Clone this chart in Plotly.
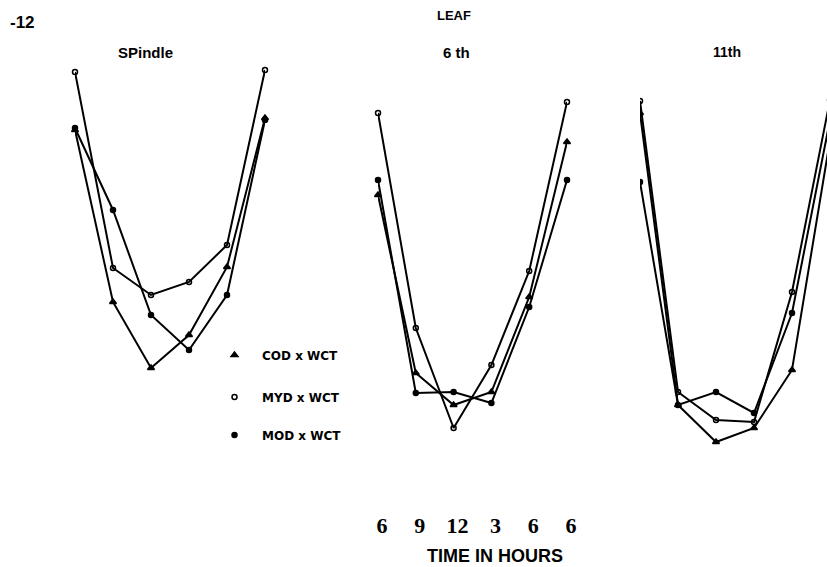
import plotly.graph_objects as go

W, H = 827, 567

time_ticks = ["6", "9", "12", "3", "6", "6"]
x_idx = [0, 1, 2, 3, 4, 5]

series_names = ["COD x WCT", "MYD x WCT", "MOD x WCT"]
panel_titles = ["SPindle", "6 th", "11th"]

# Panel 1: Spindle
spindle_cod = [82.5, 39.5, 23, 31.25, 48.25, 85.5]
spindle_myd = [97, 48, 41.25, 44.5, 53.75, 97.5]
spindle_mod = [83, 62.5, 36.25, 27.5, 41.25, 85]

# Panel 2: 6th leaf
leaf6_cod = [66.25, 21.75, 13.75, 17, 40.75, 79.5]
leaf6_myd = [86.75, 33, 8, 23.75, 47.25, 89.5]
leaf6_mod = [70, 16.75, 17, 14.25, 38.25, 70]

# Panel 3: 11th leaf
leaf11_cod = [86.75, 13.75, 4.5, 8, 22.5, 80]
leaf11_myd = [89.75, 17, 10, 9.5, 42, 90]
leaf11_mod = [69.5, 13.75, 17, 11.75, 36.75, 85]

panels = [
    (spindle_cod, spindle_myd, spindle_mod),
    (leaf6_cod, leaf6_myd, leaf6_mod),
    (leaf11_cod, leaf11_myd, leaf11_mod),
]

symbols = ["triangle-up", "circle-open", "circle"]
msizes = [6, 5, 5]

fig = go.Figure()

domains = [[75 / W, 265 / W], [378 / W, 567 / W], [640 / W, 1.0]]
ranges = [[0, 5], [0, 5], [0, 187 / 38]]

for p, data in enumerate(panels):
    xa = "x" if p == 0 else f"x{p+1}"
    for s, vals in enumerate(data):
        fig.add_trace(go.Scatter(
            x=x_idx, y=vals, xaxis=xa, yaxis="y",
            mode="lines+markers",
            line=dict(color="black", width=2),
            marker=dict(symbol=symbols[s], size=msizes[s], color="black",
                        line=dict(color="black", width=1.5)),
            cliponaxis=False if p < 2 else True,
            showlegend=False, hoverinfo="skip",
        ))

legend_keys = ["legend", "legend2", "legend3"]
for s, name in enumerate(series_names):
    fig.add_trace(go.Scatter(
        x=[None], y=[None], mode="markers", name=name,
        marker=dict(symbol=symbols[s], size=msizes[s], color="black",
                    line=dict(color="black", width=1.5)),
        showlegend=True, legend=legend_keys[s],
    ))

ax_common = dict(showgrid=False, zeroline=False, showline=False, ticks="", automargin=False)
fig.update_layout(
    width=W, height=H,
    margin=dict(l=0, r=0, t=0, b=0, pad=0, autoexpand=False),
    paper_bgcolor="white", plot_bgcolor="white",
    showlegend=True,
    yaxis=dict(range=[(460 - H) / 4, 460 / 4], domain=[0, 1], visible=False, **ax_common),
    xaxis=dict(domain=domains[0], range=ranges[0], anchor="y", visible=False, **ax_common),
    xaxis2=dict(domain=domains[1], range=ranges[1], anchor="free", position=1 - 510 / H,
                tickvals=x_idx, ticktext=time_ticks, showticklabels=True,
                ticklabelshift=4,
                tickfont=dict(family="Liberation Serif", size=22, color="black", weight="bold"),
                **ax_common),
    xaxis3=dict(domain=domains[2], range=ranges[2], anchor="y", visible=False, **ax_common),
)

leg_font = dict(family="DejaVu Sans", size=12, color="black", weight="bold")
for k, yp in zip(legend_keys, [355, 397, 435]):
    fig.update_layout({k: dict(x=207 / W, y=1 - yp / H, xanchor="left", yanchor="middle",
                               bgcolor="rgba(0,0,0,0)", font=leg_font,
                               itemwidth=45, borderwidth=0)})

ann = [
    dict(text="<b>-12</b>", x=8, y=22, size=17, xanchor="left"),
    dict(text="<b>LEAF</b>", x=454, y=15, size=13, xanchor="center"),
    dict(text="<b>" + panel_titles[0] + "</b>", x=145, y=52, size=15, xanchor="center"),
    dict(text="<b>" + panel_titles[1] + "</b>", x=456, y=52, size=15, xanchor="center"),
    dict(text="<b>" + panel_titles[2] + "</b>", x=727, y=52, size=14, xanchor="center"),
    dict(text="<b>TIME IN HOURS</b>", x=495, y=556, size=18, xanchor="center"),
]
for a in ann:
    fig.add_annotation(text=a["text"], xref="paper", yref="paper",
                       x=a["x"] / W, y=1 - a["y"] / H, xanchor=a["xanchor"], yanchor="middle",
                       showarrow=False,
                       font=dict(family="Liberation Sans", size=a["size"], color="black"))

fig.write_html("out.html", config={"displayModeBar": False},
               post_script="document.body.style.margin='0';document.body.style.overflow='hidden';")
